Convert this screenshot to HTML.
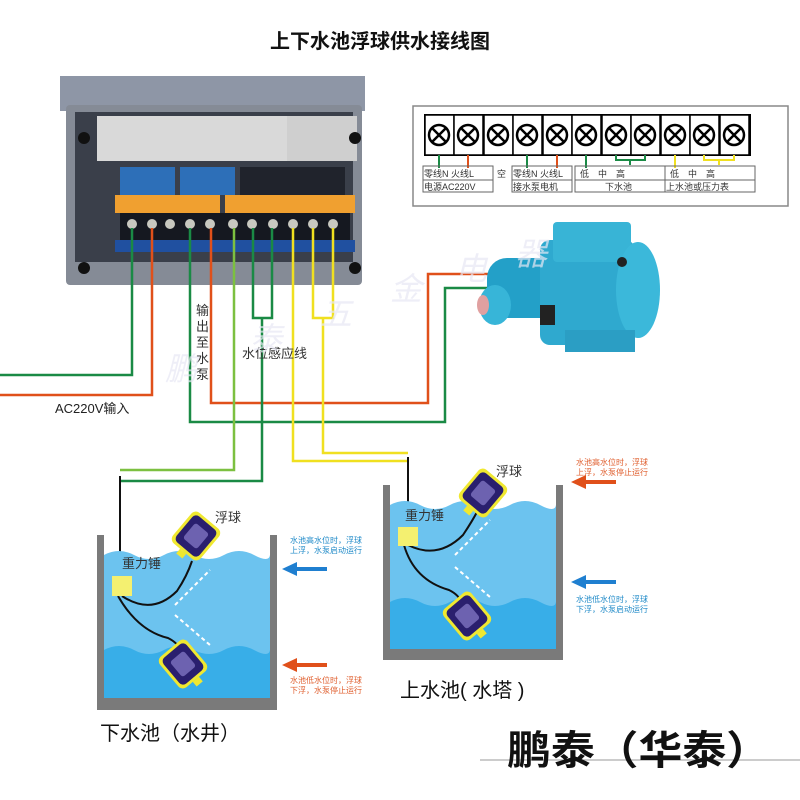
<!DOCTYPE html>
<html><head><meta charset="utf-8"><style>
html,body{margin:0;padding:0;background:#fff;}
svg{display:block;font-family:"Liberation Sans","Noto Sans CJK SC",sans-serif;}
</style></head><body>
<svg width="800" height="800" viewBox="0 0 800 800" xmlns="http://www.w3.org/2000/svg">
<defs>
<g id="flt"><rect x="-18" y="-20" width="36" height="40" rx="6" fill="#f0e830"/><rect x="-15" y="-17" width="30" height="34" rx="5" fill="#2a1f6e"/><rect x="-9" y="-10" width="18" height="20" rx="3" fill="#6d62b0"/><rect x="-4" y="20" width="8" height="6" fill="#f0e830"/></g>
<g id="term"><rect x="-14" y="-20" width="29" height="40" fill="#fff" stroke="#000" stroke-width="1.5"/><circle r="10" fill="#fff" stroke="#000" stroke-width="2.5"/><path d="M-7,-7L7,7M7,-7L-7,7" stroke="#000" stroke-width="2.5"/></g>
</defs>
<text x="380" y="48" font-size="20" font-weight="bold" text-anchor="middle" fill="#111">上下水池浮球供水接线图</text>

<!-- controller -->
<rect x="60" y="76" width="305" height="35" fill="#8e96a6"/>
<rect x="66" y="105" width="296" height="180" rx="4" fill="#858b96"/>
<rect x="75" y="112" width="278" height="150" fill="#3a3f4a"/>
<rect x="97" y="116" width="190" height="45" fill="#d9d9d9"/>
<rect x="287" y="116" width="70" height="45" fill="#cfcfcf"/>
<rect x="120" y="167" width="55" height="28" fill="#2d6fb8"/>
<rect x="180" y="167" width="55" height="28" fill="#2d6fb8"/>
<rect x="240" y="167" width="105" height="28" fill="#20232c"/>
<rect x="115" y="195" width="105" height="18" fill="#f0a030"/>
<rect x="225" y="195" width="130" height="18" fill="#f0a030"/>
<rect x="120" y="213" width="230" height="28" fill="#151820"/>
<rect x="115" y="240" width="240" height="12" fill="#2050a0"/>
<g fill="#c8c8c0"><circle cx="132" cy="224" r="5"/><circle cx="152" cy="224" r="5"/><circle cx="170" cy="224" r="5"/><circle cx="190" cy="224" r="5"/><circle cx="210" cy="224" r="5"/><circle cx="233" cy="224" r="5"/><circle cx="252" cy="224" r="5"/><circle cx="273" cy="224" r="5"/><circle cx="293" cy="224" r="5"/><circle cx="313" cy="224" r="5"/><circle cx="333" cy="224" r="5"/></g>
<circle cx="84" cy="138" r="6" fill="#111"/><circle cx="355" cy="138" r="6" fill="#111"/><circle cx="84" cy="268" r="6" fill="#111"/><circle cx="355" cy="268" r="6" fill="#111"/>

<!-- wires -->
<g fill="none" stroke-width="2.5">
<polyline points="132,228 132,375 0,375" stroke="#1a8a45"/>
<polyline points="152,228 152,395 0,395" stroke="#e0501a"/>
<polyline points="211,228 211,403 428,403 428,274 500,274" stroke="#e0501a"/>
<polyline points="190,228 190,422 445,422 445,288 500,288" stroke="#1a8a45"/>
<polyline points="234,228 234,470 120,470" stroke="#7cc040"/>
<polyline points="253,228 253,318 272,318 272,228" stroke="#1a8a45"/>
<polyline points="262,318 262,481 120,481" stroke="#1a8a45"/>
<polyline points="293,228 293,461 408,461" stroke="#f0e020"/>
<polyline points="313,228 313,318 333,318 333,228" stroke="#f0e020"/>
<polyline points="323,318 323,453 408,453" stroke="#f0e020"/>
<polyline points="120,476 120,585" stroke="#111" stroke-width="2"/>
<polyline points="408,457 408,530" stroke="#111" stroke-width="2"/>
</g>
<text x="55" y="413" font-size="13" fill="#222">AC220V输入</text>
<g font-size="13" fill="#333"><text x="196" y="315">输</text><text x="196" y="331">出</text><text x="196" y="347">至</text><text x="196" y="363">水</text><text x="196" y="379">泵</text></g>
<text x="242" y="358" font-size="13" fill="#333">水位感应线</text>

<!-- terminal diagram -->
<rect x="413" y="106" width="375" height="100" fill="#fff" stroke="#888" stroke-width="1.5"/>
<rect x="425" y="115" width="325" height="40" fill="#fff" stroke="#000" stroke-width="2"/>
<g><use href="#term" x="439" y="135"/><use href="#term" x="468" y="135"/><use href="#term" x="498" y="135"/><use href="#term" x="527" y="135"/><use href="#term" x="557" y="135"/><use href="#term" x="586" y="135"/><use href="#term" x="616" y="135"/><use href="#term" x="645" y="135"/><use href="#term" x="675" y="135"/><use href="#term" x="704" y="135"/><use href="#term" x="734" y="135"/></g>
<g stroke-width="2" fill="none">
<path d="M439,155V168" stroke="#1a8a45"/><path d="M468,155V168" stroke="#e0501a"/>
<path d="M527,155V168" stroke="#1a8a45"/><path d="M557,155V168" stroke="#e0501a"/>
<path d="M586,155V168" stroke="#1a8a45"/><path d="M616,155V160H645V155M630,160V165" stroke="#1a8a45"/>
<path d="M675,155V168" stroke="#f0e020"/><path d="M704,155V160H734V155M719,160V165" stroke="#f0e020"/>
</g>
<g fill="none" stroke="#666" stroke-width="1"><rect x="423" y="166" width="70" height="14"/><rect x="423" y="180" width="70" height="12"/><rect x="512" y="166" width="60" height="14"/><rect x="512" y="180" width="60" height="12"/><rect x="575" y="166" width="90" height="14"/><rect x="575" y="180" width="90" height="12"/><rect x="665" y="166" width="90" height="14"/><rect x="665" y="180" width="90" height="12"/></g>
<g font-size="9" fill="#333"><text x="424" y="177">零线N 火线L</text><text x="424" y="190">电源AC220V</text><text x="497" y="177">空</text><text x="513" y="177">零线N 火线L</text><text x="513" y="190">接水泵电机</text><text x="580" y="177">低　中　高</text><text x="605" y="190">下水池</text><text x="670" y="177">低　中　高</text><text x="666" y="190">上水池或压力表</text></g>

<!-- pump -->
<rect x="487" y="258" width="75" height="60" rx="20" fill="#23a0c8"/>
<ellipse cx="495" cy="305" rx="16" ry="20" fill="#37b5d8"/>
<ellipse cx="483" cy="305" rx="6" ry="10" fill="#e0a0a0"/>
<rect x="540" y="240" width="95" height="105" rx="10" fill="#2fa9cf"/>
<rect x="553" y="222" width="78" height="40" rx="4" fill="#38b4d6"/>
<ellipse cx="638" cy="290" rx="22" ry="48" fill="#3bb8da"/>
<rect x="565" y="330" width="70" height="22" fill="#2b9ec4"/>
<circle cx="622" cy="262" r="5" fill="#222"/>
<rect x="540" y="305" width="15" height="20" fill="#222"/>

<!-- lower tank -->
<path d="M104,555 q15,-8 30,0 t30,0 t30,0 t30,0 t30,0 t16,0 V698 H104Z" fill="#6cc3ef"/>
<path d="M104,650 q15,-8 30,0 t30,0 t30,0 t30,0 t30,0 t16,0 V698 H104Z" fill="#38aee8"/>
<path d="M97,535V710H277V535H270V698H104V535Z" fill="#7a7a7a"/>
<!-- upper tank -->
<path d="M390,505 q15,-8 30,0 t30,0 t30,0 t30,0 t30,0 t16,0 V649 H390Z" fill="#6cc3ef"/>
<path d="M390,602 q15,-8 30,0 t30,0 t30,0 t30,0 t30,0 t16,0 V649 H390Z" fill="#38aee8"/>
<path d="M383,485V660H563V485H556V649H390V485Z" fill="#7a7a7a"/>

<g fill="none" stroke="#111" stroke-width="2">
<path d="M122,596 q30,20 55,-5 q10,-15 15,-30"/><path d="M118,596 q20,35 50,42 q10,5 12,12"/>
<path d="M408,545 q30,15 55,-10 q10,-15 15,-25"/><path d="M404,545 q10,35 45,45 q10,5 12,12"/>
</g>
<rect x="112" y="576" width="20" height="20" fill="#f4f070"/>
<rect x="398" y="527" width="20" height="19" fill="#f4f070"/>
<use href="#flt" transform="translate(196,536) rotate(40)"/>
<use href="#flt" transform="translate(183,664) rotate(-40)"/>
<use href="#flt" transform="translate(483,493) rotate(40)"/>
<use href="#flt" transform="translate(467,616) rotate(-40)"/>
<g fill="none" stroke="#fff" stroke-width="2" stroke-dasharray="4,3"><path d="M175,605 L210,570"/><path d="M175,615 L210,645"/><path d="M455,555 L490,520"/><path d="M455,567 L490,597"/></g>
<g font-size="13" fill="#333"><text x="122" y="568">重力锤</text><text x="215" y="522">浮球</text><text x="405" y="520">重力锤</text><text x="496" y="476">浮球</text></g>

<!-- arrows -->
<path d="M327,567H297V562L282,569L297,576V571H327Z" fill="#1f7fd0"/>
<path d="M327,663H297V658L282,665L297,672V667H327Z" fill="#e0501a"/>
<path d="M616,480H586V475L571,482L586,489V484H616Z" fill="#e0501a"/>
<path d="M616,580H586V575L571,582L586,589V584H616Z" fill="#1f7fd0"/>
<g font-size="8"><text x="290" y="543" fill="#1f8ac8">水池高水位时，浮球</text><text x="290" y="553" fill="#1f8ac8">上浮，水泵启动运行</text>
<text x="290" y="683" fill="#e06030">水池低水位时，浮球</text><text x="290" y="693" fill="#e06030">下浮，水泵停止运行</text>
<text x="576" y="465" fill="#e06030">水池高水位时，浮球</text><text x="576" y="475" fill="#e06030">上浮，水泵停止运行</text>
<text x="576" y="602" fill="#1f8ac8">水池低水位时，浮球</text><text x="576" y="612" fill="#1f8ac8">下浮，水泵启动运行</text></g>

<text x="100" y="740" font-size="20" fill="#111">下水池（水井）</text>
<text x="400" y="697" font-size="20" fill="#111">上水池( 水塔 )</text>
<line x1="480" y1="760" x2="800" y2="760" stroke="#bbb" stroke-width="1.5"/>
<text x="507" y="764" font-size="40" font-weight="bold" fill="#111" textLength="263" lengthAdjust="spacingAndGlyphs">鹏泰（华泰）</text>
<g font-size="32" fill="#e8e8f4" font-style="italic" opacity="0.7"><text x="165" y="380">鹏</text><text x="250" y="350">泰</text><text x="320" y="325">五</text><text x="390" y="300">金</text><text x="455" y="280">电</text><text x="515" y="265">器</text></g>
</svg>
</body></html>
